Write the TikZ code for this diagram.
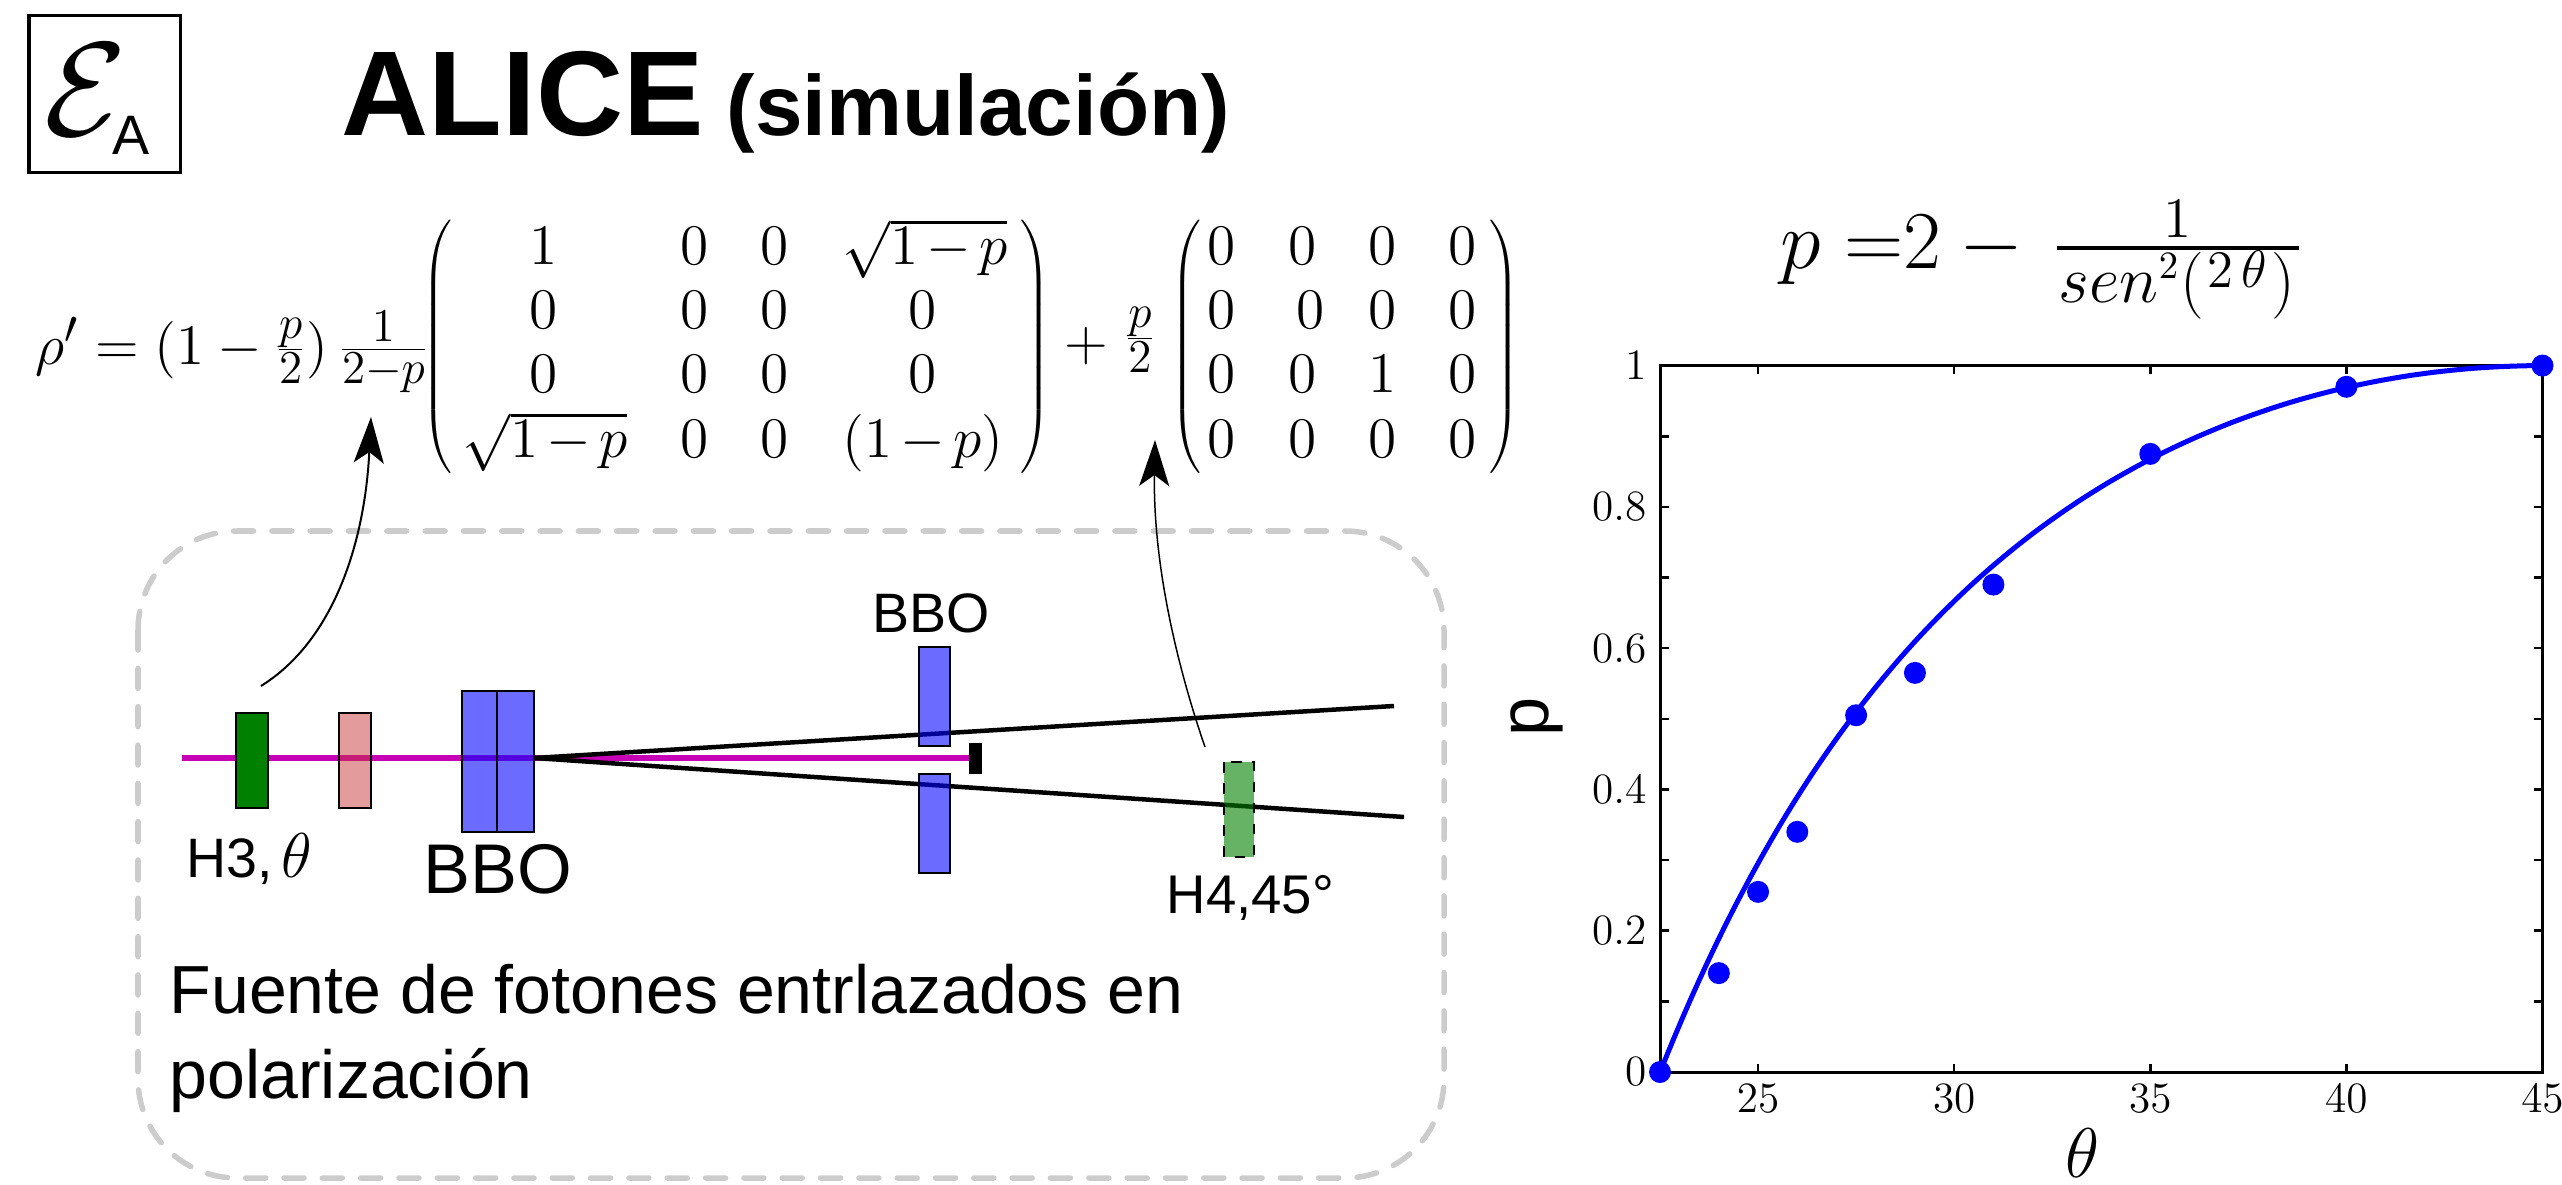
\documentclass[tikz,border=0pt]{standalone}
\usepackage{fix-cm}
\usepackage[no-math]{fontspec}
\setmainfont{Liberation Sans}
\usetikzlibrary{arrows.meta}
\DeclareMathSizes{16.3}{16.3}{13.4}{10}
\DeclareMathSizes{19}{19}{15}{11}
\definecolor{beamcol}{RGB}{198,0,180}
\definecolor{dashcol}{RGB}{204,204,204}
\definecolor{waveplate}{RGB}{0,128,0}
\definecolor{pinkplate}{RGB}{200,56,56}
\tikzset{
  matsize/.style={font=\fontsize{16.3}{20}\selectfont},
  ticksize/.style={font=\fontsize{12.3}{15}\selectfont},
  labelsmall/.style={anchor=base west,font=\fontsize{15.8}{18}\selectfont},
  bbobox/.style={draw=black,line width=0.025cm,fill=blue,fill opacity=0.58},
  tube/.style={line width=0.045cm},
  notearrow/.style={-{Stealth[length=0.46cm,width=0.30cm,inset=0.11cm]}},
}
\begin{document}
\begin{tikzpicture}[x=0.01cm,y=-0.01cm,every node/.style={inner sep=0pt}]
\useasboundingbox (0,0) rectangle (2562,1185);
% title
\draw[line width=0.03cm] (29,16) rectangle (180,173);
\node[anchor=base west,font=\fontsize{38}{42}\selectfont] (chan) at (44,136) {$\mathcal{E}$};
\node[labelsmall] (chansub) at (112,155) {A};
\node[anchor=base west,font=\fontsize{34.3}{38}\selectfont\bfseries] (alice) at (341,136) {ALICE};
\node[anchor=base west,font=\fontsize{24.3}{28}\selectfont\bfseries] (sim) at (726,136) {(simulación)};
% state
\node[anchor=base west,matsize] (rho) at (35,364) {$\rho'=(1-\frac{p}{2})\,\frac{1}{2-p}$};
\node[anchor=base west,matsize] (plus) at (1064,361) {$+$};
\node[anchor=base,matsize] (half) at (1140,353) {$\frac{p}{2}$};
\foreach \name/\xpos in {la/421,lb/1170}
  \node[anchor=base west,matsize] (\name) at (\xpos,361) {$\left(\vrule height 33pt depth 33pt width 0pt\right.$};
\foreach \name/\xpos in {ra/1052,rb/1521}
  \node[anchor=base east,matsize] (\name) at (\xpos,361) {$\left.\vrule height 33pt depth 33pt width 0pt\right)$};
\foreach \xpos/\colname in {695/b,775/c}
  \foreach \ypos/\rowname in {265/a,329/b,393/c,458/d}
    \node[anchor=base,matsize] (m\colname\rowname) at (\xpos,\ypos) {$0$};
\foreach \name/\xpos/\ypos/\val in {maa/544/265/1,mab/544/329/0,mac/544/393/0,mad/545/458/{\sqrt{1-p}},
    mda/925/265/{\sqrt{1-p}},mdb/923/329/0,mdc/923/393/0,mdd/923/458/{(1-p)}}
  \node[anchor=base,matsize] (\name) at (\xpos,\ypos) {$\medmuskip=2.5mu\val$};
\foreach \name/\xpos/\ypos/\val in {na/1222/265/0,nb/1303/265/0,nc/1383/265/0,nd/1463/265/0,
    ne/1222/329/0,nf/1311/329/0,ng/1383/329/0,nh/1463/329/0,
    ni/1222/393/0,nj/1303/393/0,nk/1383/393/1,nl/1463/393/0,
    nm/1222/458/0,nn/1303/458/0,no/1383/458/0,np/1463/458/0}
  \node[anchor=base,matsize] (\name) at (\xpos,\ypos) {$\val$};
% source
\draw[dashcol,line width=0.055cm,line cap=round,dash pattern=on 0.20cm off 0.183cm,rounded corners=0.99cm] (138,531) rectangle (1444,1178);
\draw[beamcol,line width=0.06cm] (182,758) -- (972,758);
\draw[tube] (534,758) -- (1394,706);
\draw[tube] (534,758) -- (1404,817);
\draw[draw=black,line width=0.025cm,fill=waveplate] (236,713) rectangle (268,808);
\draw[draw=black,line width=0.025cm,fill=pinkplate,fill opacity=0.5] (339,713) rectangle (371,808);
\draw[bbobox] (462,691) rectangle (497,832);
\draw[bbobox] (497,691) rectangle (534,832);
\draw[bbobox] (919,647) rectangle (950,746);
\draw[bbobox] (919,774) rectangle (950,873);
\fill (969,743) rectangle (982,774);
\draw[draw=black,line width=0.025cm,dashed,fill=waveplate,fill opacity=0.6] (1224,762) rectangle (1254,857);
\node[labelsmall] (hthree) at (186,877) {H3,\hspace{2.5pt}\fontsize{18}{20}\selectfont$\theta$};
\node[anchor=base west,font=\fontsize{20}{24}\selectfont] (bbobig) at (423,893) {BBO};
\node[labelsmall] (bbosmall) at (872,633) {BBO};
\node[anchor=base west,font=\fontsize{15.5}{18}\selectfont] (hfour) at (1166,913) {H4,45°};
\node[anchor=base west,font=\fontsize{19.35}{23}\selectfont] (fuente) at (169,1013) {Fuente de fotones entrlazados en};
\node[anchor=base west,font=\fontsize{19.35}{23}\selectfont] (polar) at (169,1098) {polarización};
% arrows
\coordinate (tailh) at (261,686);
\coordinate (tiph) at (371,417);
\coordinate (tailb) at (1205,747);
\coordinate (tipb) at (1155,440);
\draw[notearrow,line width=0.02cm] (tailh) .. controls (335,640) and (365,540) .. (tiph);
\draw[notearrow,line width=0.015cm] (tailb) .. controls (1175,660) and (1153,560) .. (tipb);
% curve
\node[anchor=base west,font=\fontsize{23.4}{26}\selectfont] (pval) at (1780,269) {$p\;{=}2-{}$};
\node[anchor=base,matsize] (num) at (2178,238) {$1$};
\draw[line width=0.04cm] (2057,248) -- (2299,248);
\node[anchor=base west,font=\fontsize{19}{22}\selectfont] (den) at (2058,303) {$sen^{\scriptscriptstyle 2}(\mskip1mu\raisebox{4.3pt}{$\scriptstyle 2\mskip3mu\theta$}\mskip1mu)$};
\begin{scope}[shift={(1660,1072)},x=0.392cm,y=7.06cm]
\draw[line width=0.03cm] (0,0) rectangle (22.5,1);
\foreach \tickx in {25,30,35,40} {
  \draw[line width=0.025cm] ({\tickx-22.5},0) -- ++(0,0.012);
  \draw[line width=0.025cm] ({\tickx-22.5},1) -- ++(0,-0.012);
}
\foreach \ticky in {0.1,0.2,...,0.95} {
  \draw[line width=0.025cm] (0,\ticky) -- ++(0.23,0);
  \draw[line width=0.025cm] (22.5,\ticky) -- ++(-0.23,0);
}
\foreach \val in {25,30,35,40,45}
  \node[anchor=base,ticksize] (xt\val) at ({\val-22.5},-0.057) {$\val$};
\foreach \val/\name in {0/a,0.2/b,0.4/c,0.6/d,0.8/e,1/f}
  \node[anchor=east,ticksize] (yt\name) at (-0.33,\val) {$\val$};
\draw[blue,line width=0.05cm] plot[domain=22.5:45,samples=60,smooth] ({\x-22.5},{2-1/(sin(2*\x)^2)});
\foreach \xval/\yval in {22.5/0,24/0.14,25/0.255,26/0.34,27.5/0.505,29/0.565,31/0.69,35/0.875,40/0.97,45/1}
  \fill[blue] ({\xval-22.5},\yval) circle[radius=0.11cm];
\end{scope}
\node[anchor=center,rotate=90,font=\fontsize{20}{24}\selectfont] (ylab) at (1537,717) {p};
\node[anchor=base,font=\fontsize{20}{24}\selectfont] (xlab) at (2082,1177) {$\theta$};
\end{tikzpicture}
\end{document}
